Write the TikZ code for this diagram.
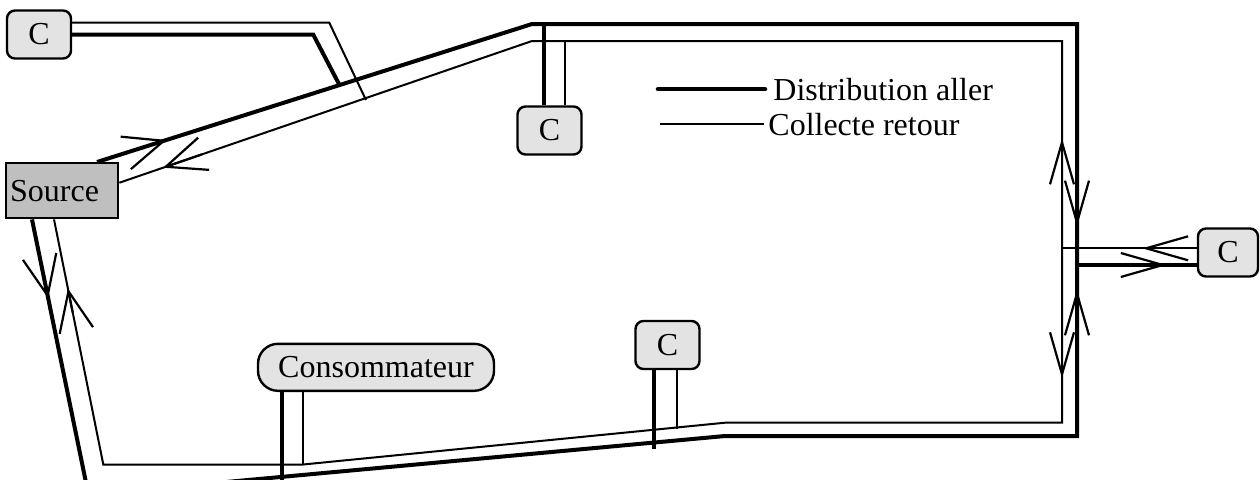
\documentclass[tikz,border=0pt]{standalone}
\usepackage{fontspec}
\setmainfont{Liberation Serif}
\usetikzlibrary{arrows.meta,calc}
\tikzset{
  aller/.style={line width=2pt},
  retour/.style={line width=1pt},
  cbox/.style={draw, line width=1.2pt, rounded corners=4pt, fill=gray!22,
    minimum width=32pt, minimum height=24pt, inner sep=0pt},
  flow/.style={line width=1.1pt, -{Straight Barb[length=21pt, width=12pt]}},
  flow wide/.style={line width=1.1pt, -{Straight Barb[length=20pt, width=17pt]}},
}
\begin{document}
\begin{tikzpicture}[x=0.5pt, y=-0.5pt, font=\fontsize{16}{19}\selectfont, line join=miter]
\useasboundingbox (0,0) rectangle (1260,479);
\clip (0,0) rectangle (1260,479);
% nodes
\node[cbox] (c1) at (39,34.5) {C};
\node[cbox] (c2) at (549.5,130.5) {C};
\node[cbox] (c3) at (667.5,345) {C};
\node[cbox, minimum width=30pt] (c4) at (1228,252.5) {C};
\node[draw, line width=1.2pt, fill=gray!50, anchor=north west, minimum height=27.5pt,
  text width=52pt, align=left, inner xsep=2pt] (src) at (5,162) {Source};
\node[cbox, rounded corners=10pt, minimum width=118pt, minimum height=23.5pt] (cons) at (376,367.3) {Consommateur};
% loop
\path (src.north west) ++(92,0) coordinate (sa)
  (src.east) ++(0,-8) coordinate (sr)
  (src.south west) ++(27,0) coordinate (sb)
  (src.south west) ++(49,0) coordinate (sc)
  (532,24) coordinate (a1) (1077,24) coordinate (a2)
  (1077,436) coordinate (a3) (725,436) coordinate (a4)
  (88.5,494.7) coordinate (a5)
  (532,41) coordinate (b1) (1062,41) coordinate (b2)
  (1062,422.7) coordinate (b3) (725,422.7) coordinate (b4)
  (303,464.5) coordinate (b5) (103.3,464.5) coordinate (b6);
\draw[aller] (sa) -- (a1) -- (a2) -- (a3) -- (a4) -- (a5) -- (sb);
\draw[retour] (sr) -- (b1) -- (b2) -- (b3) -- (b4) -- (b5) -- (b6) -- (sc);
% branches
\draw[aller] (c1.east) -- ++(241,0) -- (340,86);
\draw[retour] ([yshift=6pt]c1.east) -- ++(257,0) -- (366,100);
\draw[aller] (c2.north) ++(-5.5,0) coordinate (k2) -- (k2 |- a1);
\draw[retour] (c2.north) ++(15.5,0) coordinate (k3) -- (k3 |- b1);
\draw[aller] (c3.south) ++(-13.5,0) -- ++(0,79);
\draw[retour] (c3.south) ++(9.5,0) -- ++(0,59);
\draw[aller] (cons.south) ++(-94,0) -- ++(0,100);
\draw[retour] (cons.south) ++(-73,0) coordinate (k6) -- (k6 |- b5);
\draw[retour] (c4.west) ++(0,-4.2) coordinate (k7) -- (k7 -| b2);
\draw[aller] (c4.west) ++(0,12.5) coordinate (k8) -- (k8 -| a2);
% flow arrows
\draw[flow wide] ($(sa)!0.06!(a1)$) -- ($(sa)!0.16!(a1)$);
\draw[flow wide] ($(sr)!0.2!(b1)$) -- ($(sr)!0.106!(b1)$);
\draw[flow wide] ($(sb)!0.2!(a5)$) -- ($(sb)!0.287!(a5)$);
\draw[flow wide] ($(sc)!0.38!(b6)$) -- ($(sc)!0.282!(b6)$);
\draw[flow] (a2) ++(0,150) -- ++(0,52.7);
\draw[flow] (a3) ++(0,-86) -- ++(0,-60.7);
\draw[flow] (b2) ++(0,157) -- ++(0,-59.7);
\draw[flow] (b3) ++(0,-104) -- ++(0,59.6);
\draw[flow] (k7) ++(-10,0) -- ++(-44.7,0);
\draw[flow] (k8) ++(-90,0) -- ++(60,0);
% legend
\node[anchor=base west, inner sep=0pt] (dist) at (773,100) {Distribution aller};
\node[anchor=base west, inner sep=0pt] (coll) at (768,135) {Collecte retour};
\draw[aller, line width=2.3pt, line cap=round] ([xshift=-4pt]dist.west) -- ++(-107,0);
\draw[retour] ([xshift=-2pt]coll.west) -- ++(-104,0);
\end{tikzpicture}
\end{document}
